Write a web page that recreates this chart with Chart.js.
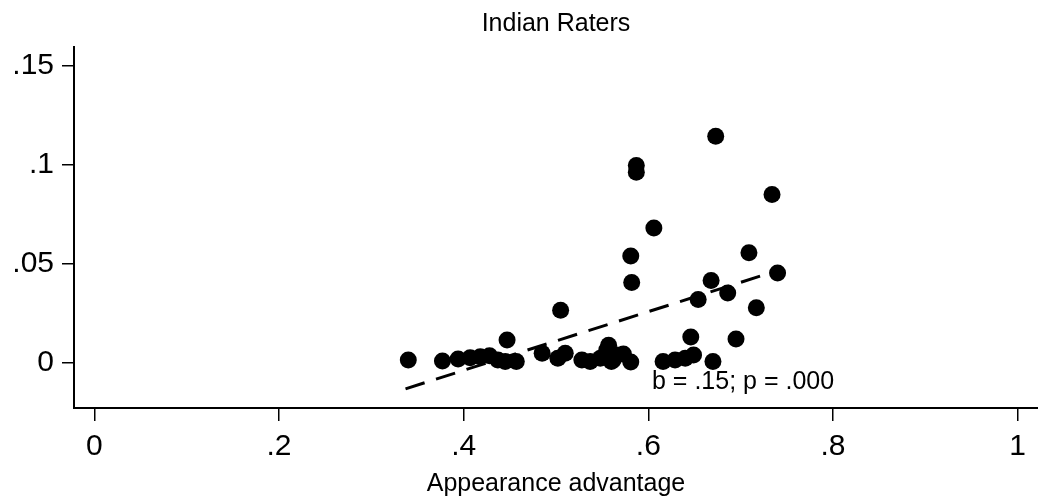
<!DOCTYPE html>
<html>
<head>
<meta charset="utf-8">
<script src="https://cdn.jsdelivr.net/npm/chart.js@4/dist/chart.umd.min.js"></script>
<style>
  html, body { margin: 0; padding: 0; background: #fff; }
  #wrap { width: 1038px; height: 503px; }
</style>
</head>
<body>
<div id="wrap"><canvas id="chart"></canvas></div>
<script>
// appearance advantage (x) and share (y)
const advantage = [
    0.673, 0.587, 0.587, 0.734, 0.606, 0.581, 0.709, 0.582, 0.740, 0.668,
    0.686, 0.654, 0.717, 0.505, 0.646, 0.695, 0.447,
    0.340, 0.377, 0.394, 0.407, 0.418, 0.428, 0.437, 0.445, 0.457,
    0.485, 0.502, 0.510, 0.528, 0.537, 0.548, 0.555, 0.557, 0.560, 0.562,
    0.566, 0.573, 0.581, 0.616, 0.629, 0.640, 0.649, 0.670
];
const share = [
    0.1142, 0.0995, 0.0961, 0.0849, 0.0680, 0.0539, 0.0556, 0.0406, 0.0454, 0.0416,
    0.0353, 0.0320, 0.0278, 0.0266, 0.0131, 0.0121, 0.0116,
    0.0015, 0.0010, 0.0020, 0.0027, 0.0032, 0.0037, 0.0015, 0.0007, 0.0007,
    0.0049, 0.0024, 0.0049, 0.0015, 0.0007, 0.0024, 0.0065, 0.0090, 0.0007, 0.0015,
    0.0040, 0.0045, 0.0005, 0.0007, 0.0015, 0.0024, 0.0040, 0.0007
];

// fitted line end points
const fitX = [0.337, 0.741];
const fitY = [-0.0130, 0.0467];

const xTicks = [0, 0.2, 0.4, 0.6, 0.8, 1];
const yTicks = [0, 0.05, 0.1, 0.15];
const fitNote = 'b = .15; p = .000';
const notePos = [0.604, -0.0133];

const FONT = '"Liberation Sans", Arial, Helvetica, sans-serif';

// stata style numbers: .05 instead of 0.05
function stataNum(v) {
    const s = String(parseFloat(v.toFixed(4)));
    return s.replace(/^0\./, '.').replace(/^-0\./, '-.');
}

const noteText = {
    id: 'noteText',
    afterDatasetsDraw(chart) {
        const {ctx, scales} = chart;
        ctx.save();
        ctx.fillStyle = '#000';
        ctx.font = '25px ' + FONT;
        ctx.textAlign = 'left';
        ctx.textBaseline = 'alphabetic';
        ctx.fillText(fitNote, scales.x.getPixelForValue(notePos[0]), scales.y.getPixelForValue(notePos[1]));
        ctx.restore();
    }
};

function noPad(s) {
    s.paddingLeft = 0;
    s.paddingRight = 0;
    s.paddingTop = 0;
    s.paddingBottom = 0;
}

new Chart(document.getElementById('chart'), {
    type: 'scatter',
    data: {
        datasets: [{
            data: advantage.map((x, i) => ({x: x, y: share[i]})),
            backgroundColor: '#000',
            borderColor: '#000',
            pointRadius: 8.5,
            pointHoverRadius: 8.5,
            borderWidth: 0
        }, {
            type: 'line',
            data: fitX.map((x, i) => ({x: x, y: fitY[i]})),
            borderColor: '#000',
            borderWidth: 3,
            borderDash: [20, 12],
            pointRadius: 0,
            fill: false
        }]
    },
    options: {
        responsive: true,
        maintainAspectRatio: false,
        animation: false,
        layout: { padding: 0, autoPadding: false },
        plugins: {
            legend: { display: false },
            tooltip: { enabled: false },
            title: {
                display: true,
                fullSize: false,   // centre over the plot, like stata
                text: 'Indian Raters',
                color: '#000',
                font: { family: FONT, size: 25, weight: 'normal' },
                padding: { top: 9, bottom: 8 }
            }
        },
        scales: {
            x: {
                type: 'linear',
                min: -0.0221,
                max: 1.0221,
                afterBuildTicks: s => { s.ticks = xTicks.map(v => ({value: v})); },
                afterFit: s => { s.height = 95; noPad(s); },
                ticks: {
                    color: '#000',
                    font: { family: FONT, size: 30 },
                    padding: 8,
                    maxRotation: 0,
                    callback: v => stataNum(v)
                },
                grid: {
                    drawOnChartArea: false,
                    drawTicks: true,
                    tickLength: 13,
                    color: '#000',
                    lineWidth: 1.5
                },
                border: { display: true, color: '#000', width: 2 },
                title: {
                    display: true,
                    text: 'Appearance advantage',
                    color: '#000',
                    font: { family: FONT, size: 25 },
                    padding: { top: 0, bottom: 4 }
                }
            },
            y: {
                type: 'linear',
                min: -0.02267,
                max: 0.1592,
                afterBuildTicks: s => { s.ticks = yTicks.map(v => ({value: v})); },
                afterFit: s => { s.width = 74; noPad(s); },
                ticks: {
                    color: '#000',
                    font: { family: FONT, size: 30 },
                    padding: 8,
                    callback: v => stataNum(v)
                },
                grid: {
                    drawOnChartArea: false,
                    drawTicks: true,
                    tickLength: 12,
                    color: '#000',
                    lineWidth: 1.5
                },
                border: { display: true, color: '#000', width: 2 }
            }
        }
    },
    plugins: [noteText]
});
</script>
</body>
</html>
